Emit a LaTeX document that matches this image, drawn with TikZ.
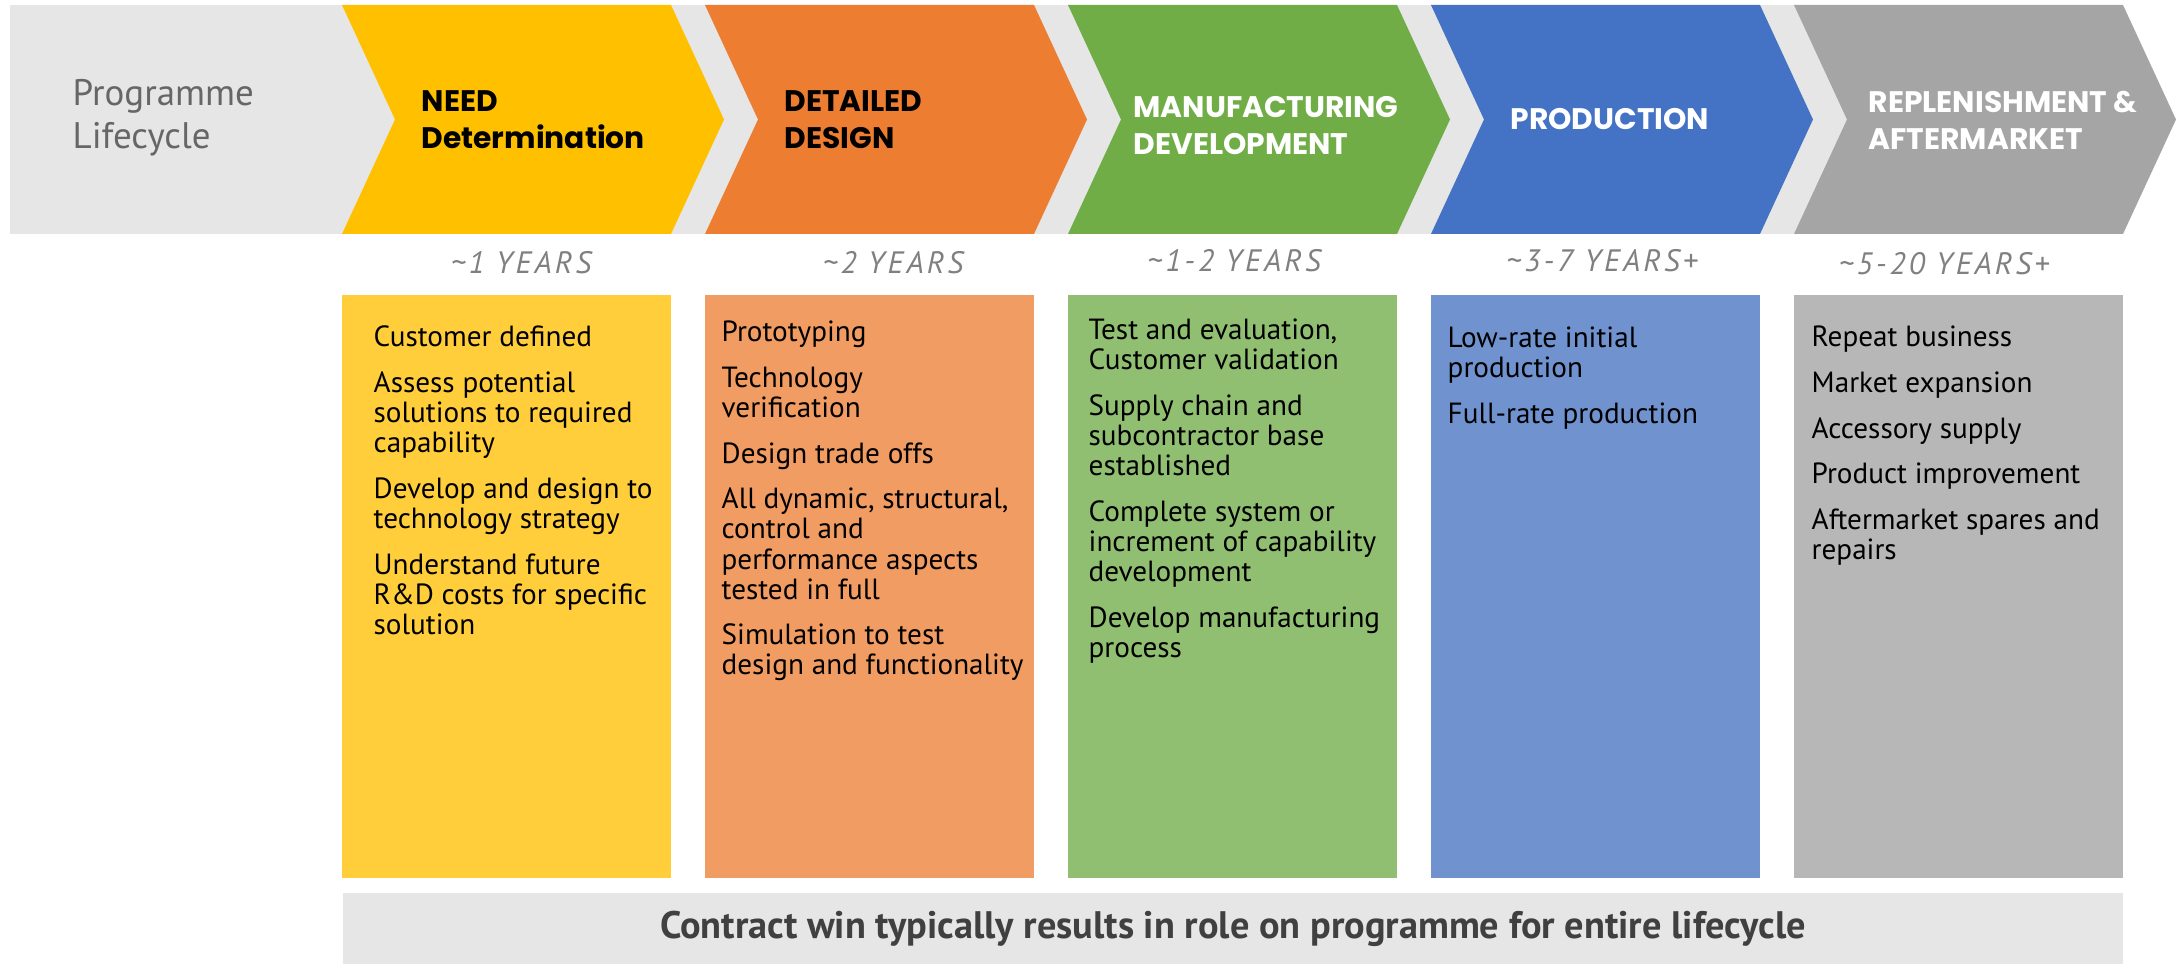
\documentclass[tikz,border=0pt]{standalone}
\usepackage{fontspec}
\setmainfont{PT Sans}
\newfontfamily\headfont{Poppins}
\usetikzlibrary{positioning}

\definecolor{bandgrey}{HTML}{E6E6E6}
\definecolor{needc}{HTML}{FFC000}
\definecolor{needl}{HTML}{FFCE3A}
\definecolor{designc}{HTML}{ED7D31}
\definecolor{designl}{HTML}{F19C62}
\definecolor{mfgc}{HTML}{70AD47}
\definecolor{mfgl}{HTML}{91BF72}
\definecolor{prodc}{HTML}{4472C4}
\definecolor{prodl}{HTML}{7093D0}
\definecolor{replc}{HTML}{A5A5A5}
\definecolor{repll}{HTML}{B7B7B7}
\definecolor{yeargrey}{HTML}{808080}
\definecolor{labelgrey}{HTML}{666666}
\definecolor{bargrey}{HTML}{404040}

\newcommand{\nextitem}{\\[4.5pt]}

\tikzset{
  every node/.style={inner sep=0pt},
  phase/.style={font=\headfont\bfseries\fontsize{8.45}{10.5}\selectfont, align=left, anchor=west},
  years/.style={font=\itshape\addfontfeature{LetterSpace=10}\fontsize{8.8}{9}\selectfont, text=yeargrey, anchor=center},
  tasks/.style={font=\fontsize{8.3}{8.54}\selectfont, align=left, anchor=north west}
}

\begin{document}
\begin{tikzpicture}[x=0.01cm,y=-0.01cm]
    \useasboundingbox (0,0) rectangle (2177,964);

    % band and chevrons
    \fill[bandgrey] (10,5) rectangle (2123,234);
    \foreach \x/\c in {342/needc,705/designc,1068/mfgc,1431/prodc,1794/replc}{
        \fill[\c] (\x,5) -- ++(329,0) -- ++(53,114.5) -- ++(-53,114.5)
            -- ++(-329,0) -- ++(53,-114.5) -- cycle;
    }

    % columns
    \foreach \x/\c in {342/needl,705/designl,1068/mfgl,1431/prodl,1794/repll}{
        \fill[\c] (\x,295) rectangle ++(329,583);
    }
    \fill[bandgrey] (343,893) rectangle (2123,964);

    % phase titles
    \node[font=\fontsize{10.5}{12.2}\selectfont, text=labelgrey, align=left, anchor=west]
        (prog) at (72,118) {Programme\\Lifecycle};
    \node[phase] (need) at (421,120) {NEED\\Determination};
    \node[phase] (design) at (784,120) {DETAILED\\DESIGN};
    \node[phase, text=white] (mfg) at (1133,126) {MANUFACTURING\\DEVELOPMENT};
    \node[phase, text=white] (prod) at (1510,119) {PRODUCTION};
    \node[phase, text=white] (repl) at (1868,120) {REPLENISHMENT \&\\AFTERMARKET};

    % durations
    \node[years] (needyr) at (521,263) {\textasciitilde1 YEARS};
    \node[years] (designyr) at (893,263) {\textasciitilde2 YEARS};
    \node[years] (mfgyr) at (1234,261) {\textasciitilde1-2 YEARS};
    \node[years] (prodyr) at (1602,261) {\textasciitilde3-7 YEARS+};
    \node[years] (replyr) at (1944,264) {\textasciitilde5-20 YEARS+};

    % activities
    \node[tasks] (needlist) at (373,325) {Customer defined\nextitem
        Assess potential\\solutions to required\\capability\nextitem
        Develop and design to\\technology strategy\nextitem
        Understand future\\R\&D costs for specific\\solution};
    \node[tasks] (designlist) at (721,320) {Prototyping\nextitem
        Technology\\verification\nextitem
        Design trade offs\nextitem
        All dynamic, structural,\\control and\\performance aspects\\tested in full\nextitem
        Simulation to test\\design and functionality};
    \node[tasks] (mfglist) at (1088,318) {Test and evaluation,\\Customer validation\nextitem
        Supply chain and\\subcontractor base\\established\nextitem
        Complete system or\\increment of capability\\development\nextitem
        Develop manufacturing\\process};
    \node[tasks] (prodlist) at (1447,326) {Low-rate initial\\production\nextitem
        Full-rate production};
    \node[tasks] (repllist) at (1811,325) {Repeat business\nextitem
        Market expansion\nextitem
        Accessory supply\nextitem
        Product improvement\nextitem
        Aftermarket spares and\\repairs};

    \node[font=\bfseries\fontsize{10.9}{12}\selectfont, text=bargrey] (contract) at (1233,929)
        {Contract win typically results in role on programme for entire lifecycle};
\end{tikzpicture}
\end{document}
